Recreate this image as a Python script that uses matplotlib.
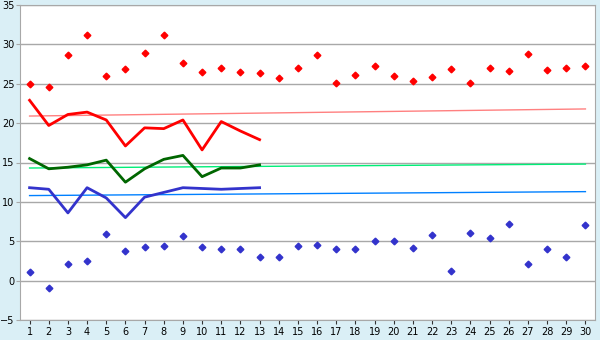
import numpy as np
import matplotlib.pyplot as plt

days = np.arange(1, 31)

# forecast / record extremes (diamonds)
max_points = [25.0, 24.6, 28.7, 31.2, 26.0, 26.9, 28.9, 31.2, 27.6, 26.5,
              27.0, 26.5, 26.4, 25.7, 27.0, 28.7, 25.1, 26.1, 27.3, 26.0,
              25.4, 25.9, 26.9, 25.1, 27.0, 26.6, 28.8, 26.8, 27.0, 27.3]
min_points = [1.1, -0.9, 2.1, 2.5, 5.9, 3.8, 4.3, 4.4, 5.7, 4.3,
              4.0, 4.0, 3.0, 3.0, 4.4, 4.5, 4.0, 4.0, 5.0, 5.0,
              4.2, 5.8, 1.2, 6.1, 5.4, 7.2, 2.1, 4.0, 3.0, 7.1]

# measured so far (days 1-13)
max_line = [22.9, 19.7, 21.1, 21.4, 20.4, 17.1, 19.4, 19.3, 20.4, 16.6, 20.2, 19.0, 17.9]
mean_line = [15.5, 14.2, 14.4, 14.7, 15.3, 12.5, 14.2, 15.4, 15.9, 13.2, 14.3, 14.3, 14.7]
min_line = [11.8, 11.6, 8.6, 11.8, 10.5, 8.0, 10.6, 11.2, 11.8, 11.7, 11.6, 11.7, 11.8]

# long-term normals (start and end of month)
normal_days = [1, 30]
normal_max = [20.9, 21.8]
normal_mean = [14.3, 14.8]
normal_min = [10.8, 11.3]

BG = '#daeff6'
GRID = '#a8a8a8'

fig = plt.figure(figsize=(6, 3.4), dpi=100, facecolor=BG)
ax = fig.add_axes([20/600, 20/340, 575/600, 315/340])
ax.set_facecolor('white')

ax.plot(normal_days, normal_max, color='#ff8080', lw=1.0)
ax.plot(normal_days, normal_mean, color='#00ee77', lw=1.0)
ax.plot(normal_days, normal_min, color='#0080ff', lw=1.0)

n = len(max_line)
ax.plot(days[:n], max_line, color='#ff0000', lw=2.0)
ax.plot(days[:n], mean_line, color='#006600', lw=2.0)
ax.plot(days[:n], min_line, color='#3333cc', lw=2.0)

ax.plot(days, max_points, ls='none', marker='D', ms=3.4, color='#ff0000')
ax.plot(days, min_points, ls='none', marker='D', ms=3.4, color='#3333cc')

ax.set_xlim(0.5, 30.5)
ax.set_ylim(-5, 35)
ax.set_xticks(days)
ax.set_yticks(np.arange(-5, 36, 5))
ax.yaxis.grid(True, color=GRID, lw=1.0)
ax.set_axisbelow(True)
for s in ax.spines.values():
    s.set_color(GRID)
ax.tick_params(labelsize=7, length=3, pad=1)
ax.tick_params(axis='x', colors='#333333', labelcolor='black', pad=2)
ax.tick_params(axis='y', colors=GRID, labelcolor='black')

fig.savefig('out.png', dpi=100, facecolor=BG)
